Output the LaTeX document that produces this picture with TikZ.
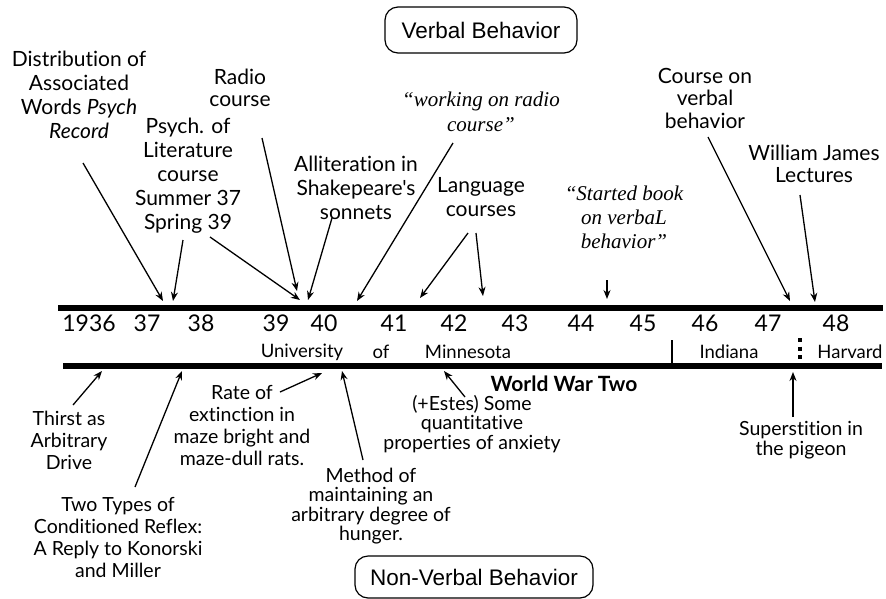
\documentclass[tikz,border=0pt]{standalone}
\usepackage{fontspec}
\newfontfamily\gs[Ligatures={NoCommon}]{Lato}
\newfontfamily\ar{Liberation Sans}
\newfontfamily\qf{Liberation Serif}
\usetikzlibrary{arrows.meta}
\begin{document}
\begin{tikzpicture}[x=1pt,y=-1pt,
  lab/.style={font=\gs\fontsize{21}{24}\selectfont, align=center, inner sep=0pt},
  blab/.style={font=\gs\fontsize{19.5}{22}\selectfont, align=center, inner sep=0pt},
  slab/.style={font=\gs\fontsize{19.5}{19.5}\selectfont, align=center, inner sep=0pt},
  quo/.style={font=\qf\itshape\fontsize{21}{24}\selectfont, align=center, inner sep=0pt},
  yr/.style={font=\gs\fontsize{23}{26}\selectfont, inner sep=0pt},
  pl/.style={font=\gs\fontsize{18.5}{20}\selectfont, inner sep=0pt},
  catbox/.style={draw, line width=1.2pt, rounded corners=13pt, font=\ar\fontsize{22.5}{26}\selectfont, inner sep=0pt},
  arr/.style={line width=1.3pt, -{Stealth[length=9pt,width=7pt]}},
  bar/.style={line width=6.5pt}]
\useasboundingbox (0,0) rectangle (886,598);
% category boxes
\node[catbox, minimum width=192pt, minimum height=46pt] (vb) at (481,30) {Verbal Behavior};
\node[catbox, minimum width=238pt, minimum height=42pt] (nvb) at (474,577) {Non-Verbal Behavior};
% bars
\coordinate (tbl) at (58,308); \coordinate (tbr) at (883,308);
\coordinate (bbl) at (63,366); \coordinate (bbr) at (882,366);
\draw[bar] (tbl) -- (tbr);
\draw[line width=5.5pt] (bbl) -- (bbr);
% years
\node[yr] (y36) at (89,323) {1936};
\node[yr] (y37) at (147,323) {37};
\node[yr] (y38) at (201,323) {38};
\node[yr] (y39) at (276,323) {39};
\node[yr] (y40) at (324,323) {40};
\node[yr] (y41) at (394,323) {41};
\node[yr] (y42) at (454,323) {42};
\node[yr] (y43) at (515,323) {43};
\node[yr] (y44) at (581,323) {44};
\node[yr] (y45) at (643,323) {45};
\node[yr] (y46) at (705,323) {46};
\node[yr] (y47) at (768,323) {47};
\node[yr] (y48) at (836,323) {48};
% places
\node[pl] (uni) at (302,352) {University};
\node[pl] (of) at (381,352) {of};
\node[pl] (minn) at (468,352) {Minnesota};
\node[pl] (ind) at (729,352) {Indiana};
\node[pl] (harv) at (850,352) {Harvard};
\coordinate (sepA1) at (672,340); \coordinate (sepA2) at (672,366);
\draw[line width=2pt] (sepA1) -- (sepA2);
\coordinate (sepB1) at (800,338); \coordinate (sepB2) at (800,362);
\draw[line width=4pt, dash pattern=on 4pt off 4.5pt] (sepB1) -- (sepB2);
\node[font=\gs\bfseries\fontsize{21}{24}\selectfont, inner sep=0pt] (wwt) at (564,384) {World War Two};
% tips on the top bar
\coordinate (t1) at (163,301);
\coordinate (t2) at (173,301);
\coordinate (t3) at (297,291);
\coordinate (t4) at (300,300);
\coordinate (t5) at (308,300);
\coordinate (t6) at (357,301);
\coordinate (t7) at (420,298);
\coordinate (t8) at (483,296);
\coordinate (t9) at (607,299);
\coordinate (t10) at (790,301);
\coordinate (t11) at (815,302);
% top labels
\node[lab] (dist) at (79,95) {Distribution of\\Associated\\Words \textit{Psych}\\\textit{Record}};
\node[lab, font=\gs\fontsize{21}{22}\selectfont] (radio) at (240,88) {Radio\\course};
\node[lab] (psy) at (188,176) {Psych. of\\Literature\\course\\Summer 37\\Spring 39};
\node[lab] (allit) at (356,188) {Alliteration in\\Shakepeare's\\sonnets};
\node[quo, font=\qf\itshape\fontsize{21}{25}\selectfont] (work) at (481,112) {“working on radio\\course”};
\node[lab] (lang) at (481,197) {Language\\courses};
\node[quo] (start) at (624,217) {“Started book\\on verbaL\\behavior”};
\node[lab, font=\gs\fontsize{21}{22.5}\selectfont] (cverb) at (705,98) {Course on\\verbal\\behavior};
\node[lab, font=\gs\fontsize{21}{22}\selectfont] (wj) at (814,164) {William James\\Lectures};
% top arrows (start points placed relative to label centres)
\draw[arr] ([xshift=4pt,yshift=-68pt]dist.center) -- (t1);
\draw[arr] ([xshift=-5pt,yshift=-64pt]psy.center) -- (t2);
\draw[arr] ([xshift=22pt,yshift=-50pt]radio.center) -- (t3);
\draw[arr] ([xshift=22pt,yshift=-61pt]psy.center) -- (t4);
\draw[arr] ([xshift=-24pt,yshift=-30pt]allit.center) -- (t5);
\draw[arr] ([xshift=-28pt,yshift=-31pt]work.center) -- (t6);
\draw[arr] ([xshift=-13pt,yshift=-36pt]lang.center) -- (t7);
\draw[arr] ([xshift=-5pt,yshift=-36pt]lang.center) -- (t8);
\draw[arr] ([xshift=-17pt,yshift=-63pt]start.center) -- (t9);
\draw[arr] ([xshift=3pt,yshift=-39pt]cverb.center) -- (t10);
\draw[arr] ([xshift=-14pt,yshift=-31pt]wj.center) -- (t11);
% tips on the bottom bar
\coordinate (b1) at (102,371);
\coordinate (b2) at (182,371);
\coordinate (b3) at (322,373);
\coordinate (b4) at (342,371);
\coordinate (b5) at (444,371);
\coordinate (b6) at (793,372);
% bottom labels
\node[blab] (thirst) at (69,440) {Thirst as\\Arbitrary\\Drive};
\node[blab] (two) at (118,537) {Two Types of\\Conditioned Reflex:\\A Reply to Konorski\\and Miller};
\node[blab] (rate) at (242,425) {Rate of\\extinction in\\maze bright and\\maze-dull rats.};
\node[slab] (meth) at (371,506) {Method of\\maintaining an\\arbitrary degree of\\hunger.};
\node[slab] (estes) at (472,424) {(+Estes) Some\\quantitative\\properties of anxiety};
\node[slab] (sup) at (801,440) {Superstition in\\the pigeon};
% bottom arrows
\draw[arr] ([xshift=4pt,yshift=35pt]thirst.center) -- (b1);
\draw[arr] ([xshift=17pt,yshift=50pt]two.center) -- (b2);
\draw[arr] ([xshift=38pt,yshift=33pt]rate.center) -- (b3);
\draw[arr] ([xshift=-8pt,yshift=46pt]meth.center) -- (b4);
\draw[arr] ([xshift=-7pt,yshift=27pt]estes.center) -- (b5);
\draw[arr] ([xshift=-8pt,yshift=23pt]sup.center) -- (b6);
\end{tikzpicture}
\end{document}
